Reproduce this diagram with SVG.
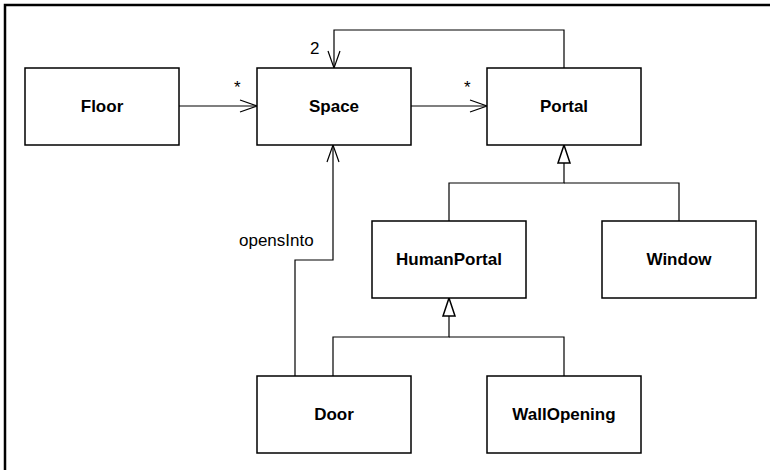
<svg xmlns="http://www.w3.org/2000/svg" width="770" height="470" viewBox="0 0 770 470">
<style>
.box{fill:#fff;stroke:#000;stroke-width:1.5}
.name{font-family:"Liberation Sans",Arial,sans-serif;font-size:17px;font-weight:bold;text-anchor:middle;fill:#000}
.lbl{font-family:"Liberation Sans",Arial,sans-serif;font-size:17px;fill:#000}
.ln{fill:none;stroke:#000;stroke-width:1.2}
</style>
<defs>
<marker id="open" markerUnits="userSpaceOnUse" markerWidth="20" markerHeight="14" viewBox="-18 -7 20 14" refX="0" refY="0" orient="auto">
<path d="M-17,-6 L0,0 L-17,6" fill="none" stroke="#000" stroke-width="1.2"/>
</marker>
<marker id="tri" markerUnits="userSpaceOnUse" markerWidth="22" markerHeight="16" viewBox="-20 -8 22 16" refX="0" refY="0" orient="auto">
<path d="M0,0 L-18,-6 L-18,6 Z" fill="#fff" stroke="#000" stroke-width="1.5"/>
</marker>
</defs>
<rect width="770" height="470" fill="#fff"/>
<path d="M5,470 V5 H770" fill="none" stroke="#000" stroke-width="2.5"/>
<g id="connectors">
<path class="ln" d="M179,106 H257" marker-end="url(#open)"/>
<path class="ln" d="M411,106 H487" marker-end="url(#open)"/>
<path class="ln" d="M564,68 V30 H334 V68" marker-end="url(#open)"/>
<path class="ln" d="M295,376 V260 H333 V145" marker-end="url(#open)"/>
<path class="ln" d="M679,221 V183 H564"/>
<path class="ln" d="M449,221 V183 H564 V145" marker-end="url(#tri)"/>
<path class="ln" d="M564,376 V337 H449"/>
<path class="ln" d="M333,376 V337 H449 V298" marker-end="url(#tri)"/>
<text class="lbl" x="234" y="93">*</text>
<text class="lbl" x="464" y="93">*</text>
<text class="lbl" x="310" y="54">2</text>
<text class="lbl" x="239" y="246">opensInto</text>
</g>
<g id="Floor"><rect class="box" x="25" y="68" width="154" height="77"/><text class="name" x="102" y="112">Floor</text></g>
<g id="Space"><rect class="box" x="257" y="68" width="154" height="77"/><text class="name" x="334" y="112">Space</text></g>
<g id="Portal"><rect class="box" x="487" y="68" width="154" height="77"/><text class="name" x="564" y="112">Portal</text></g>
<g id="HumanPortal"><rect class="box" x="372" y="221" width="154" height="77"/><text class="name" x="449" y="265">HumanPortal</text></g>
<g id="Window"><rect class="box" x="602" y="221" width="154" height="77"/><text class="name" x="679" y="265">Window</text></g>
<g id="Door"><rect class="box" x="257" y="376" width="154" height="77"/><text class="name" x="334" y="420">Door</text></g>
<g id="WallOpening"><rect class="box" x="487" y="376" width="154" height="77"/><text class="name" x="564" y="420">WallOpening</text></g>
</svg>
